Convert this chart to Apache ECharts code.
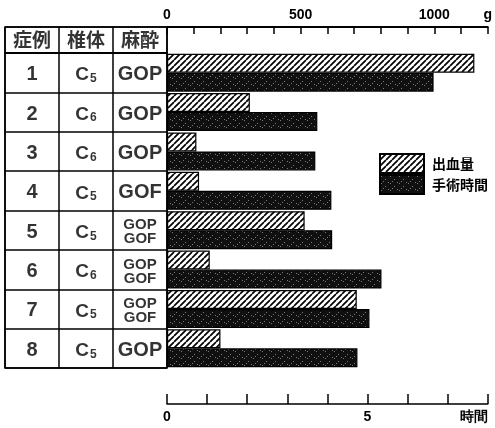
<!DOCTYPE html>
<html><head><meta charset="utf-8">
<script src="https://cdn.jsdelivr.net/npm/echarts@6/dist/echarts.min.js"></script>
<style>html,body{margin:0;padding:0;background:#fff}#c{width:495px;height:428px}</style>
</head><body><div id="c"></div>
<script>
// ---- data ----
const headers = ['症例', '椎体', '麻酔'];
const caseNos = ['1', '2', '3', '4', '5', '6', '7', '8'];
const vertebraLevel = ['5', '6', '6', '5', '5', '6', '5', '5'];
const anesthesia = [['GOP'], ['GOP'], ['GOP'], ['GOF'], ['GOP', 'GOF'], ['GOP', 'GOF'], ['GOP', 'GOF'], ['GOP']];
const bloodLoss = [1150, 310, 110, 120, 515, 160, 710, 200];
const opHours = [6.65, 3.75, 3.7, 4.1, 4.12, 5.35, 5.05, 4.75];
const seriesNames = ['出血量', '手術時間'];
const gramLabels = [0, 500, 1000];
const gramUnit = 'g';
const hourLabels = [0, 5];
const hourUnit = '時間';

// ---- styles ----
const LAT = '"Liberation Sans", Arial, sans-serif';
const CJK = '"Noto Sans CJK JP", "Noto Sans CJK SC", sans-serif';
function hatch() {
  const s = 6, c = document.createElement('canvas'); c.width = s; c.height = s;
  const g = c.getContext('2d'); g.fillStyle = '#fff'; g.fillRect(0, 0, s, s);
  g.strokeStyle = '#000'; g.lineWidth = 1.7; g.beginPath();
  for (const k of [-s, 0, s]) { g.moveTo(k, s); g.lineTo(k + s, 0); }
  g.stroke(); return c;
}
function speckle() {
  const c = document.createElement('canvas'); c.width = 9; c.height = 7;
  const g = c.getContext('2d'); g.fillStyle = '#101010'; g.fillRect(0, 0, 9, 7);
  g.fillStyle = '#7a7a7a';
  [[1, 1], [5, 4], [8, 0], [3, 6]].forEach(([x, y]) => g.fillRect(x, y, 1, 1));
  return c;
}
const hiddenCat = {
  axisLine: { show: false }, axisTick: { show: false }, axisLabel: { show: false },
  splitLine: { show: true, interval: 0, lineStyle: { color: '#000', width: 1.5 } }
};
const cellScatter = (xi, yi, data, label) => ({
  type: 'scatter', xAxisIndex: xi, yAxisIndex: yi, data, symbolSize: 1, silent: true,
  itemStyle: { color: 'rgba(0,0,0,0)' }, label: Object.assign({ show: true, position: 'inside', color: '#000' }, label)
});

const chart = echarts.init(document.getElementById('c'));
chart.setOption({
  animation: false,
  backgroundColor: '#fff',
  grid: [
    { left: 167, right: 2, top: 53, bottom: 60 },
    { left: 5, width: 162, top: 27, height: 26, show: true, borderColor: '#000', borderWidth: 1.5 },
    { left: 5, width: 162, top: 53, bottom: 60, show: true, borderColor: '#000', borderWidth: 1.5 }
  ],
  xAxis: [
    {
      gridIndex: 0, type: 'value', position: 'top', offset: 26, min: 0, max: 1200, interval: 100,
      axisLine: { show: true, lineStyle: { color: '#000', width: 2 } },
      axisTick: { show: true, inside: true, length: 7, lineStyle: { color: '#000', width: 1.5 } },
      splitLine: { show: false },
      axisLabel: {
        color: '#000', fontWeight: 'bold', fontSize: 14, fontFamily: LAT, margin: 5,
        showMinLabel: true, showMaxLabel: true,
        formatter: v => v === 1200 ? gramUnit : (gramLabels.includes(v) ? String(v) : '')
      }
    },
    {
      gridIndex: 0, type: 'value', position: 'bottom', offset: 36, min: 0, max: 8, interval: 1,
      axisLine: { show: true, lineStyle: { color: '#000', width: 1.5 } },
      axisTick: { show: true, inside: true, length: 10, lineStyle: { color: '#000', width: 1.5 } },
      splitLine: { show: false },
      axisLabel: {
        color: '#000', fontWeight: 'bold', fontSize: 14, fontFamily: LAT, margin: 6,
        showMinLabel: true, showMaxLabel: true, alignMaxLabel: 'right',
        formatter: v => v === 8 ? hourUnit : (hourLabels.includes(v) ? String(v) : '')
      }
    },
    Object.assign({ gridIndex: 1, type: 'category', data: headers }, hiddenCat),
    Object.assign({ gridIndex: 2, type: 'category', data: headers }, hiddenCat)
  ],
  yAxis: [
    { gridIndex: 0, type: 'category', data: caseNos, inverse: true, show: false },
    Object.assign({ gridIndex: 1, type: 'category', data: [''] }, hiddenCat),
    Object.assign({ gridIndex: 2, type: 'category', data: caseNos, inverse: true }, hiddenCat)
  ],
  legend: {
    orient: 'vertical', left: 379, top: 153, padding: 0, itemWidth: 44, itemHeight: 19, itemGap: 0,
    icon: 'rect', selectedMode: false, data: seriesNames,
    textStyle: { fontSize: 14, fontWeight: 'bold', color: '#000', fontFamily: CJK, padding: [0, 0, 0, 3] }
  },
  series: [
    {
      name: seriesNames[0], type: 'bar', xAxisIndex: 0, yAxisIndex: 0, data: bloodLoss,
      barWidth: 19, barGap: '0%',
      itemStyle: { color: { image: hatch(), repeat: 'repeat' }, borderColor: '#000', borderWidth: 1.2 }
    },
    {
      name: seriesNames[1], type: 'bar', xAxisIndex: 1, yAxisIndex: 0, data: opHours,
      barWidth: 19, barGap: '0%',
      itemStyle: { color: { image: speckle(), repeat: 'repeat' }, borderColor: '#000', borderWidth: 1.2 }
    },
    cellScatter(2, 1, headers.map((h, i) => [i, 0]), {
      fontSize: 19, fontWeight: 'bold', fontFamily: CJK, formatter: p => headers[p.dataIndex]
    }),
    cellScatter(3, 2, caseNos.map((c, i) => [0, i]), {
      fontSize: 20, fontWeight: 'bold', fontFamily: LAT, offset: [0, 2], formatter: p => caseNos[p.dataIndex]
    }),
    cellScatter(3, 2, vertebraLevel.map((v, i) => [1, i]), {
      fontFamily: LAT, fontWeight: 'bold', offset: [0, 1],
      formatter: p => '{c|C}{s|' + vertebraLevel[p.dataIndex] + '}',
      rich: {
        c: { fontSize: 19, fontWeight: 'bold', fontFamily: LAT, verticalAlign: 'bottom', lineHeight: 22 },
        s: { fontSize: 12, fontWeight: 'bold', fontFamily: LAT, verticalAlign: 'bottom', lineHeight: 17, padding: [0, 0, 0, 1] }
      }
    }),
    cellScatter(3, 2, anesthesia.map((a, i) => [2, i]), {
      fontFamily: LAT, fontWeight: 'bold', offset: [0, 2],
      formatter: p => {
        const a = anesthesia[p.dataIndex];
        return a.length > 1 ? a.map(t => '{sm|' + t + '}').join('\n') : '{lg|' + a[0] + '}';
      },
      rich: {
        lg: { fontSize: 20, fontWeight: 'bold', fontFamily: LAT, lineHeight: 22 },
        sm: { fontSize: 15, fontWeight: 'bold', fontFamily: LAT, lineHeight: 14 }
      }
    })
  ]
});
</script>
</body></html>
